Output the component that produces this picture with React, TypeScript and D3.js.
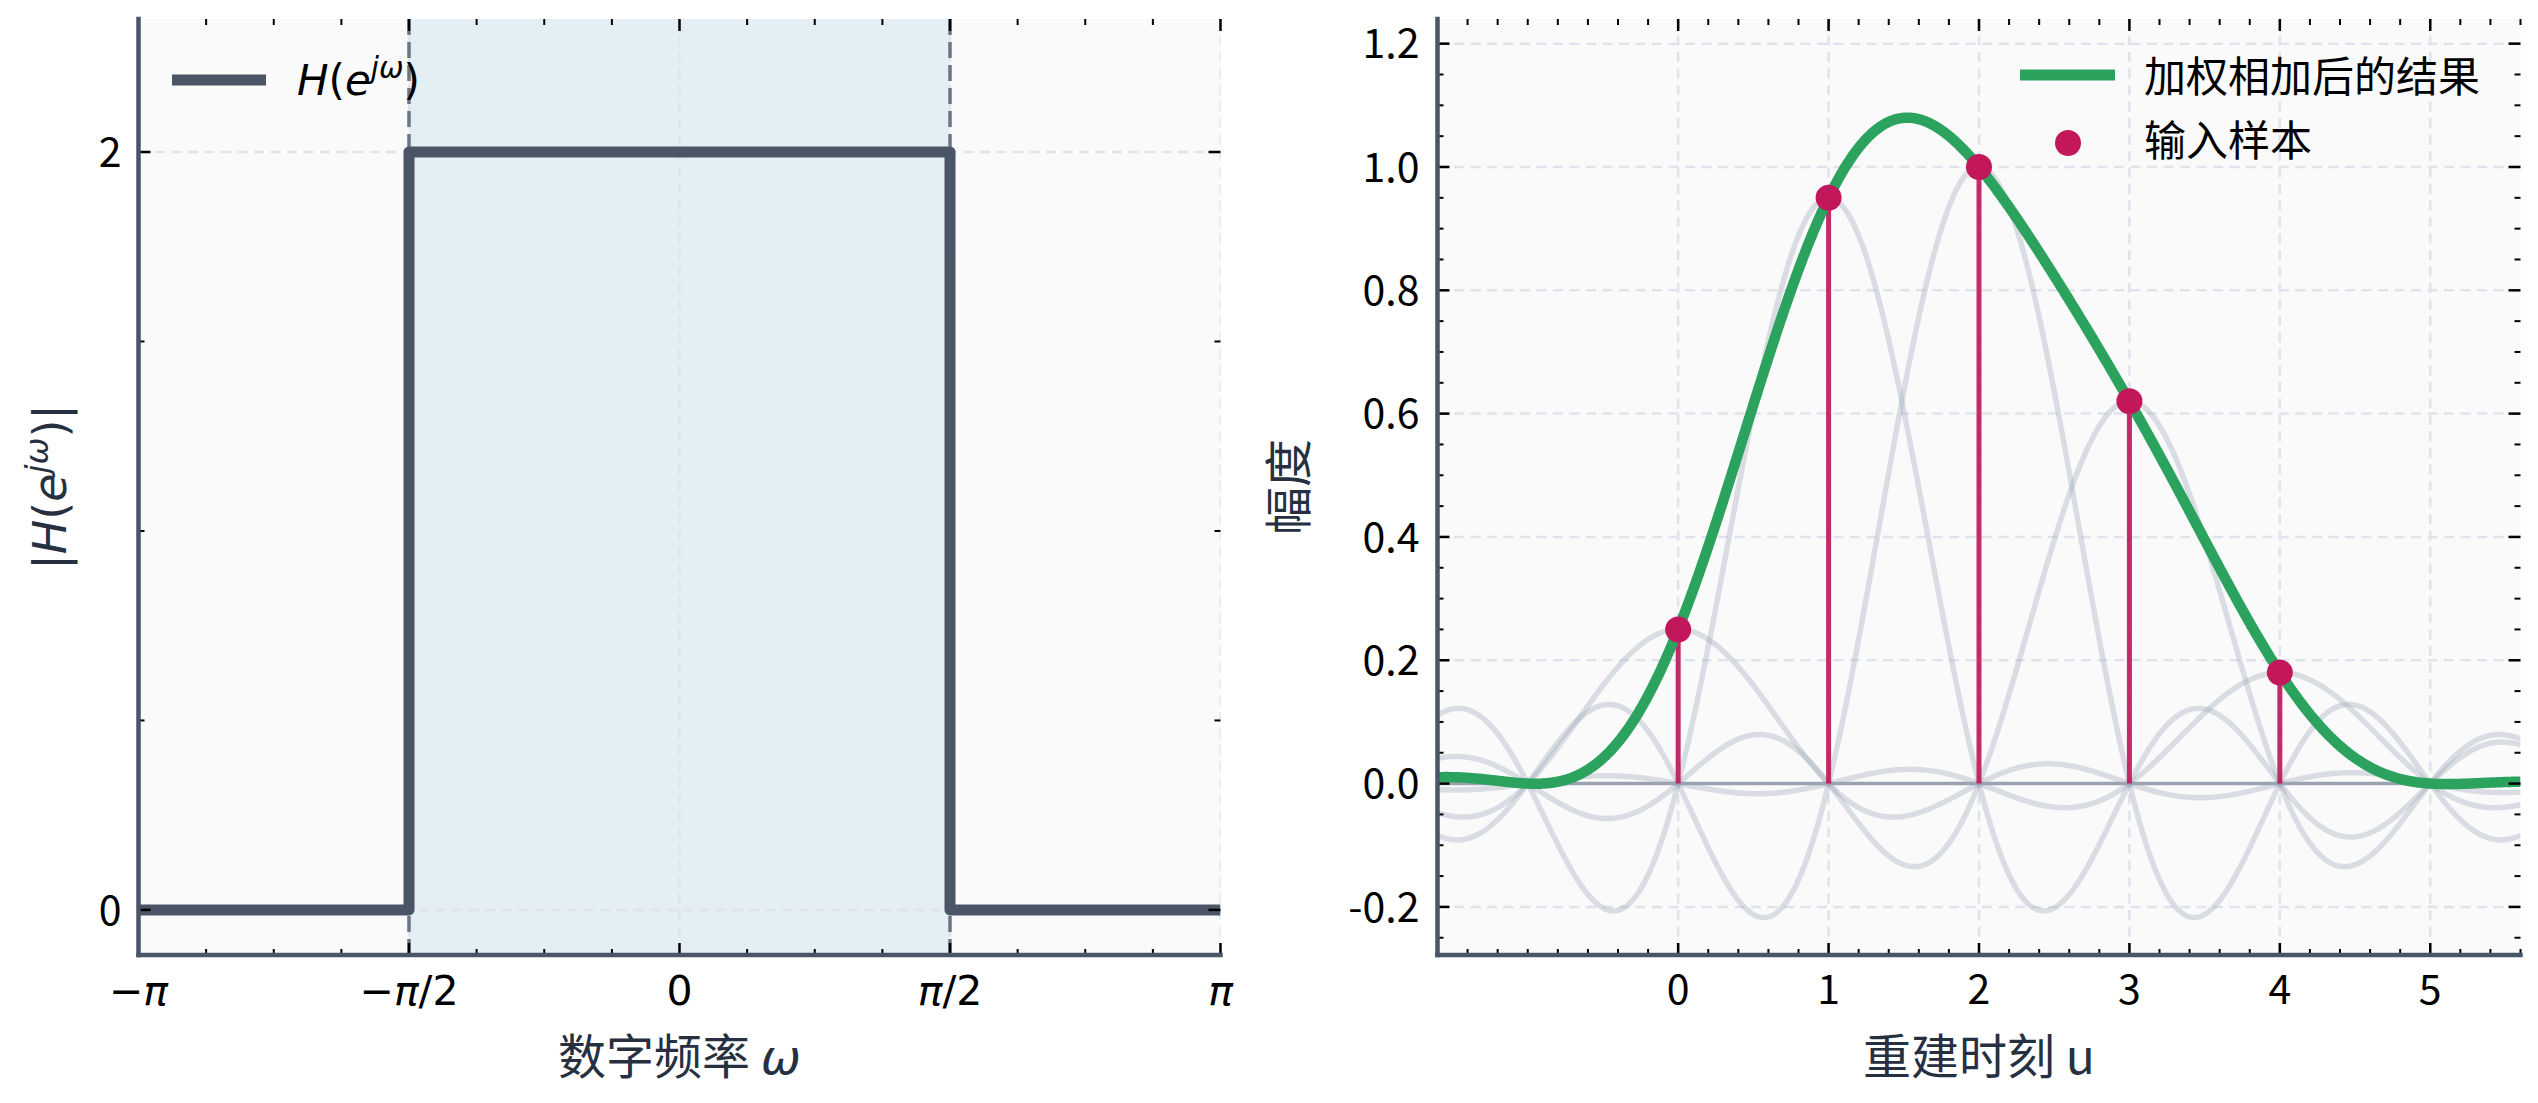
import React from 'react';
import * as d3 from 'd3';

const W = 2538;
const H = 1103;

// ---------- Left panel data ----------
const stepOmega = [-Math.PI, -Math.PI / 2, -Math.PI / 2, Math.PI / 2, Math.PI / 2, Math.PI];
const stepGain = [0, 0, 2, 2, 0, 0];
const passband = [-Math.PI / 2, Math.PI / 2];
const leftXTicks = [-Math.PI, -Math.PI / 2, 0, Math.PI / 2, Math.PI];
const leftXTickLabels = ['−π', '−π/2', '0', 'π/2', 'π'];
const leftYTicks = [0, 2];
const leftYTickLabels = ['0', '2'];
const leftYMinor = [0.5, 1, 1.5];
const leftXMinorStep = Math.PI / 8;

// ---------- Right panel data ----------
const sampleIdx = [0, 1, 2, 3, 4];
const sampleVals = [0.25, 0.95, 1.0, 0.62, 0.18];
const rightXTicks = [0, 1, 2, 3, 4, 5];
const rightXTickLabels = ['0', '1', '2', '3', '4', '5'];
const rightYTicks = [-0.2, 0, 0.2, 0.4, 0.6, 0.8, 1.0, 1.2];
const rightYTickLabels = ['-0.2', '0.0', '0.2', '0.4', '0.6', '0.8', '1.0', '1.2'];
const rightXMinorStep = 0.2;
const rightYMinorStep = 0.05;

const CJK = "'Noto Sans CJK SC', 'Noto Sans', sans-serif";
const MATH = "'DejaVu Sans', sans-serif";
const SPINE = '#4a5568';
const GRID = '#e0e3ec';
const TXT = '#263040';

const sinc = (t: number) => (Math.abs(t) < 1e-12 ? 1 : Math.sin(Math.PI * t) / (Math.PI * t));

type Box = { x0: number; x1: number; y0: number; y1: number };
const LB: Box = { x0: 138.5, x1: 1220.5, y0: 19, y1: 955 };
const RB: Box = { x0: 1437.5, x1: 2520.5, y0: 19, y1: 955 };

function Ticks({ box, xs, ys, xMinor, yMinor }: { box: Box; xs: number[]; ys: number[]; xMinor: number[]; yMinor: number[] }) {
  const out: React.ReactNode[] = [];
  const MJ = 12, MN = 6;
  xs.forEach((x, i) => {
    out.push(<line key={'xb' + i} x1={x} x2={x} y1={box.y1} y2={box.y1 - MJ} stroke="#000" strokeWidth={2.5} />);
    out.push(<line key={'xt' + i} x1={x} x2={x} y1={box.y0} y2={box.y0 + MJ} stroke="#000" strokeWidth={2.5} />);
  });
  xMinor.forEach((x, i) => {
    out.push(<line key={'mxb' + i} x1={x} x2={x} y1={box.y1} y2={box.y1 - MN} stroke="#000" strokeWidth={2} />);
    out.push(<line key={'mxt' + i} x1={x} x2={x} y1={box.y0} y2={box.y0 + MN} stroke="#000" strokeWidth={2} />);
  });
  ys.forEach((y, i) => {
    out.push(<line key={'yl' + i} x1={box.x0} x2={box.x0 + MJ} y1={y} y2={y} stroke="#000" strokeWidth={2.5} />);
    out.push(<line key={'yr' + i} x1={box.x1} x2={box.x1 - MJ} y1={y} y2={y} stroke="#000" strokeWidth={2.5} />);
  });
  yMinor.forEach((y, i) => {
    out.push(<line key={'myl' + i} x1={box.x0} x2={box.x0 + MN} y1={y} y2={y} stroke="#000" strokeWidth={2} />);
    out.push(<line key={'myr' + i} x1={box.x1} x2={box.x1 - MN} y1={y} y2={y} stroke="#000" strokeWidth={2} />);
  });
  return <g>{out}</g>;
}

function PiLabel({ label, x, y }: { label: string; x: number; y: number }) {
  const parts: React.ReactNode[] = [];
  let buf = '';
  let k = 0;
  for (const ch of label) {
    if (ch === 'π') {
      if (buf) parts.push(<tspan key={k++}>{buf}</tspan>);
      buf = '';
      parts.push(<tspan key={k++} fontStyle="italic">π</tspan>);
    } else buf += ch;
  }
  if (buf) parts.push(<tspan key={k++}>{buf}</tspan>);
  return (
    <text x={x} y={y} textAnchor="middle" fontFamily={MATH} fontSize={41} fill="#000">
      {parts}
    </text>
  );
}

function HLabel({ x, y, size, bars, rotate, fill }: { x: number; y: number; size: number; bars?: boolean; rotate?: boolean; fill: string }) {
  const sup = size * 0.7;
  return (
    <text
      x={x}
      y={y}
      textAnchor={rotate ? 'middle' : 'start'}
      fontFamily={MATH}
      fontSize={size}
      fill={fill}
      transform={rotate ? `rotate(-90 ${x} ${y})` : undefined}
    >
      {bars && <tspan>|</tspan>}
      <tspan fontStyle="italic">H</tspan>
      <tspan>(</tspan>
      <tspan fontStyle="italic">e</tspan>
      <tspan fontStyle="italic" fontSize={sup} dy={-size * 0.4}>jω</tspan>
      <tspan dy={size * 0.4}>)</tspan>
      {bars && <tspan>|</tspan>}
    </text>
  );
}

export default function App() {
  // ---------- Left scales ----------
  const lx = d3.scaleLinear().domain([-Math.PI, Math.PI]).range([LB.x0, LB.x1]);
  const ly = d3.scaleLinear().domain([-0.119, 2.351]).range([LB.y1, LB.y0]);
  const stepLine = d3
    .line<number>()
    .x((_, i) => lx(stepOmega[i]))
    .y((_, i) => ly(stepGain[i]));
  const leftXMinor = d3
    .range(-8, 9)
    .map((k) => k * leftXMinorStep)
    .filter((v) => Math.abs(Math.round(v / (Math.PI / 2)) * (Math.PI / 2) - v) > 1e-6);

  // ---------- Right scales ----------
  const rx = d3.scaleLinear().domain([-1.6, 5.6]).range([RB.x0, RB.x1]);
  const ry = d3.scaleLinear().domain([-0.278, 1.24]).range([RB.y1, RB.y0]);
  const uGrid = d3.range(-1.6, 5.6001, 0.005);
  const singleCurves = sampleIdx.map((n, i) => uGrid.map((u) => [u, sampleVals[i] * sinc(u - n)] as [number, number]));
  const sumCurve = uGrid.map((u) => [u, d3.sum(sampleIdx, (n, i) => sampleVals[i] * sinc(u - n))] as [number, number]);
  const rline = d3
    .line<[number, number]>()
    .x((d) => rx(d[0]))
    .y((d) => ry(d[1]));
  const rightXMinor = d3
    .range(-8, 29)
    .map((k) => +(k * rightXMinorStep).toFixed(3))
    .filter((v) => !rightXTicks.includes(v));
  const rightYMinor = d3
    .range(-5, 25)
    .map((k) => +(k * rightYMinorStep).toFixed(3))
    .filter((v) => v >= -0.278 && v <= 1.24 && Math.abs(v * 5 - Math.round(v * 5)) > 1e-6);

  return (
    <svg width={W} height={H} style={{ position: 'absolute', left: 0, top: 0, background: '#fff' }}>
      <defs>
        <clipPath id="clipL">
          <rect x={LB.x0} y={LB.y0} width={LB.x1 - LB.x0} height={LB.y1 - LB.y0} />
        </clipPath>
        <clipPath id="clipR">
          <rect x={RB.x0} y={RB.y0} width={RB.x1 - RB.x0} height={RB.y1 - RB.y0} />
        </clipPath>
      </defs>

      {/* ================= LEFT PANEL ================= */}
      <rect x={LB.x0} y={LB.y0} width={LB.x1 - LB.x0} height={LB.y1 - LB.y0} fill="#fafafa" />
      <g clipPath="url(#clipL)">
        <rect x={lx(passband[0])} y={LB.y0} width={lx(passband[1]) - lx(passband[0])} height={LB.y1 - LB.y0} fill="#e3eef5" />
        {leftXTicks.map((t, i) => (
          <line key={'lgx' + i} x1={lx(t)} x2={lx(t)} y1={LB.y0} y2={LB.y1} stroke={GRID} strokeWidth={2.5} strokeDasharray="10 6.5" />
        ))}
        {leftYTicks.map((t, i) => (
          <line key={'lgy' + i} x1={LB.x0} x2={LB.x1} y1={ly(t)} y2={ly(t)} stroke={GRID} strokeWidth={2.5} strokeDasharray="10 6.5" />
        ))}
        {passband.map((p, i) => (
          <line key={'pb' + i} x1={lx(p)} x2={lx(p)} y1={LB.y0} y2={LB.y1} stroke="#6b7686" strokeWidth={3.5} strokeDasharray="16 7" />
        ))}
        <path d={stepLine(stepOmega) || ''} fill="none" stroke="#4a5565" strokeWidth={11} strokeLinejoin="round" />
      </g>
      <Ticks
        box={LB}
        xs={leftXTicks.map((t) => lx(t))}
        ys={leftYTicks.map((t) => ly(t))}
        xMinor={leftXMinor.map((t) => lx(t))}
        yMinor={leftYMinor.map((t) => ly(t))}
      />
      <line x1={LB.x0} x2={LB.x0} y1={LB.y0} y2={LB.y1} stroke={SPINE} strokeWidth={4.5} strokeLinecap="square" />
      <line x1={LB.x0} x2={LB.x1} y1={LB.y1} y2={LB.y1} stroke={SPINE} strokeWidth={4.5} strokeLinecap="square" />
      {leftXTicks.map((t, i) => (
        <PiLabel key={'lxl' + i} label={leftXTickLabels[i]} x={lx(t)} y={1005} />
      ))}
      {leftYTicks.map((t, i) => (
        <text key={'lyl' + i} x={LB.x0 - 17} y={ly(t)} dy="0.36em" textAnchor="end" fontFamily={CJK} fontSize={41} fill="#000">
          {leftYTickLabels[i]}
        </text>
      ))}
      {/* legend */}
      <line x1={172} x2={266} y1={80} y2={80} stroke="#4a5565" strokeWidth={11} />
      <HLabel x={297} y={95} size={42} fill="#000" />
      {/* axis labels */}
      <text x={(LB.x0 + LB.x1) / 2} y={1074} textAnchor="middle" fontFamily={CJK} fontSize={48} fill={TXT}>
        数字频率 <tspan fontFamily={MATH} fontStyle="italic">ω</tspan>
      </text>
      <HLabel x={66} y={(LB.y0 + LB.y1) / 2} size={46} bars rotate fill={TXT} />

      {/* ================= RIGHT PANEL ================= */}
      <rect x={RB.x0} y={RB.y0} width={RB.x1 - RB.x0} height={RB.y1 - RB.y0} fill="#fafafa" />
      <g clipPath="url(#clipR)">
        {rightXTicks.map((t, i) => (
          <line key={'rgx' + i} x1={rx(t)} x2={rx(t)} y1={RB.y0} y2={RB.y1} stroke={GRID} strokeWidth={2.5} strokeDasharray="10 6.5" />
        ))}
        {rightYTicks.map((t, i) => (
          <line key={'rgy' + i} x1={RB.x0} x2={RB.x1} y1={ry(t)} y2={ry(t)} stroke={GRID} strokeWidth={2.5} strokeDasharray="10 6.5" />
        ))}
        {singleCurves.map((c, i) => (
          <path key={'sc' + i} d={rline(c) || ''} fill="none" stroke="#98a3b7" strokeOpacity={0.33} strokeWidth={5.5} />
        ))}
        <line x1={RB.x0} x2={RB.x1} y1={ry(0)} y2={ry(0)} stroke="#9aa3b2" strokeWidth={3.5} />
        {sampleIdx.map((n, i) => (
          <line key={'st' + i} x1={rx(n)} x2={rx(n)} y1={ry(0)} y2={ry(sampleVals[i])} stroke="#c2185b" strokeOpacity={0.92} strokeWidth={5} />
        ))}
        <path d={rline(sumCurve) || ''} fill="none" stroke="#2ca25f" strokeWidth={10.5} strokeLinejoin="round" />
        {sampleIdx.map((n, i) => (
          <circle key={'mk' + i} cx={rx(n)} cy={ry(sampleVals[i])} r={13} fill="#c2185b" />
        ))}
      </g>
      <Ticks
        box={RB}
        xs={rightXTicks.map((t) => rx(t))}
        ys={rightYTicks.map((t) => ry(t))}
        xMinor={rightXMinor.map((t) => rx(t))}
        yMinor={rightYMinor.map((t) => ry(t))}
      />
      <line x1={RB.x0} x2={RB.x0} y1={RB.y0} y2={RB.y1} stroke={SPINE} strokeWidth={4.5} strokeLinecap="square" />
      <line x1={RB.x0} x2={RB.x1} y1={RB.y1} y2={RB.y1} stroke={SPINE} strokeWidth={4.5} strokeLinecap="square" />
      {rightXTicks.map((t, i) => (
        <text key={'rxl' + i} x={rx(t)} y={1004} textAnchor="middle" fontFamily={CJK} fontSize={41} fill="#000">
          {rightXTickLabels[i]}
        </text>
      ))}
      {rightYTicks.map((t, i) => (
        <text key={'ryl' + i} x={RB.x0 - 18} y={ry(t)} dy="0.36em" textAnchor="end" fontFamily={CJK} fontSize={41} fill="#000">
          {rightYTickLabels[i]}
        </text>
      ))}
      {/* legend */}
      <line x1={2020} x2={2115} y1={75} y2={75} stroke="#2ca25f" strokeWidth={11} />
      <text x={2144} y={92} fontFamily={CJK} fontSize={42} fill="#000">加权相加后的结果</text>
      <circle cx={2068} cy={143} r={13} fill="#c2185b" />
      <text x={2144} y={156} fontFamily={CJK} fontSize={42} fill="#000">输入样本</text>
      {/* axis labels */}
      <text x={(RB.x0 + RB.x1) / 2} y={1074} textAnchor="middle" fontFamily={CJK} fontSize={48} fill={TXT}>
        重建时刻 u
      </text>
      <text
        x={1306}
        y={(RB.y0 + RB.y1) / 2}
        textAnchor="middle"
        fontFamily={CJK}
        fontSize={48}
        fill={TXT}
        transform={`rotate(-90 1306 ${(RB.y0 + RB.y1) / 2})`}
      >
        幅度
      </text>
    </svg>
  );
}
